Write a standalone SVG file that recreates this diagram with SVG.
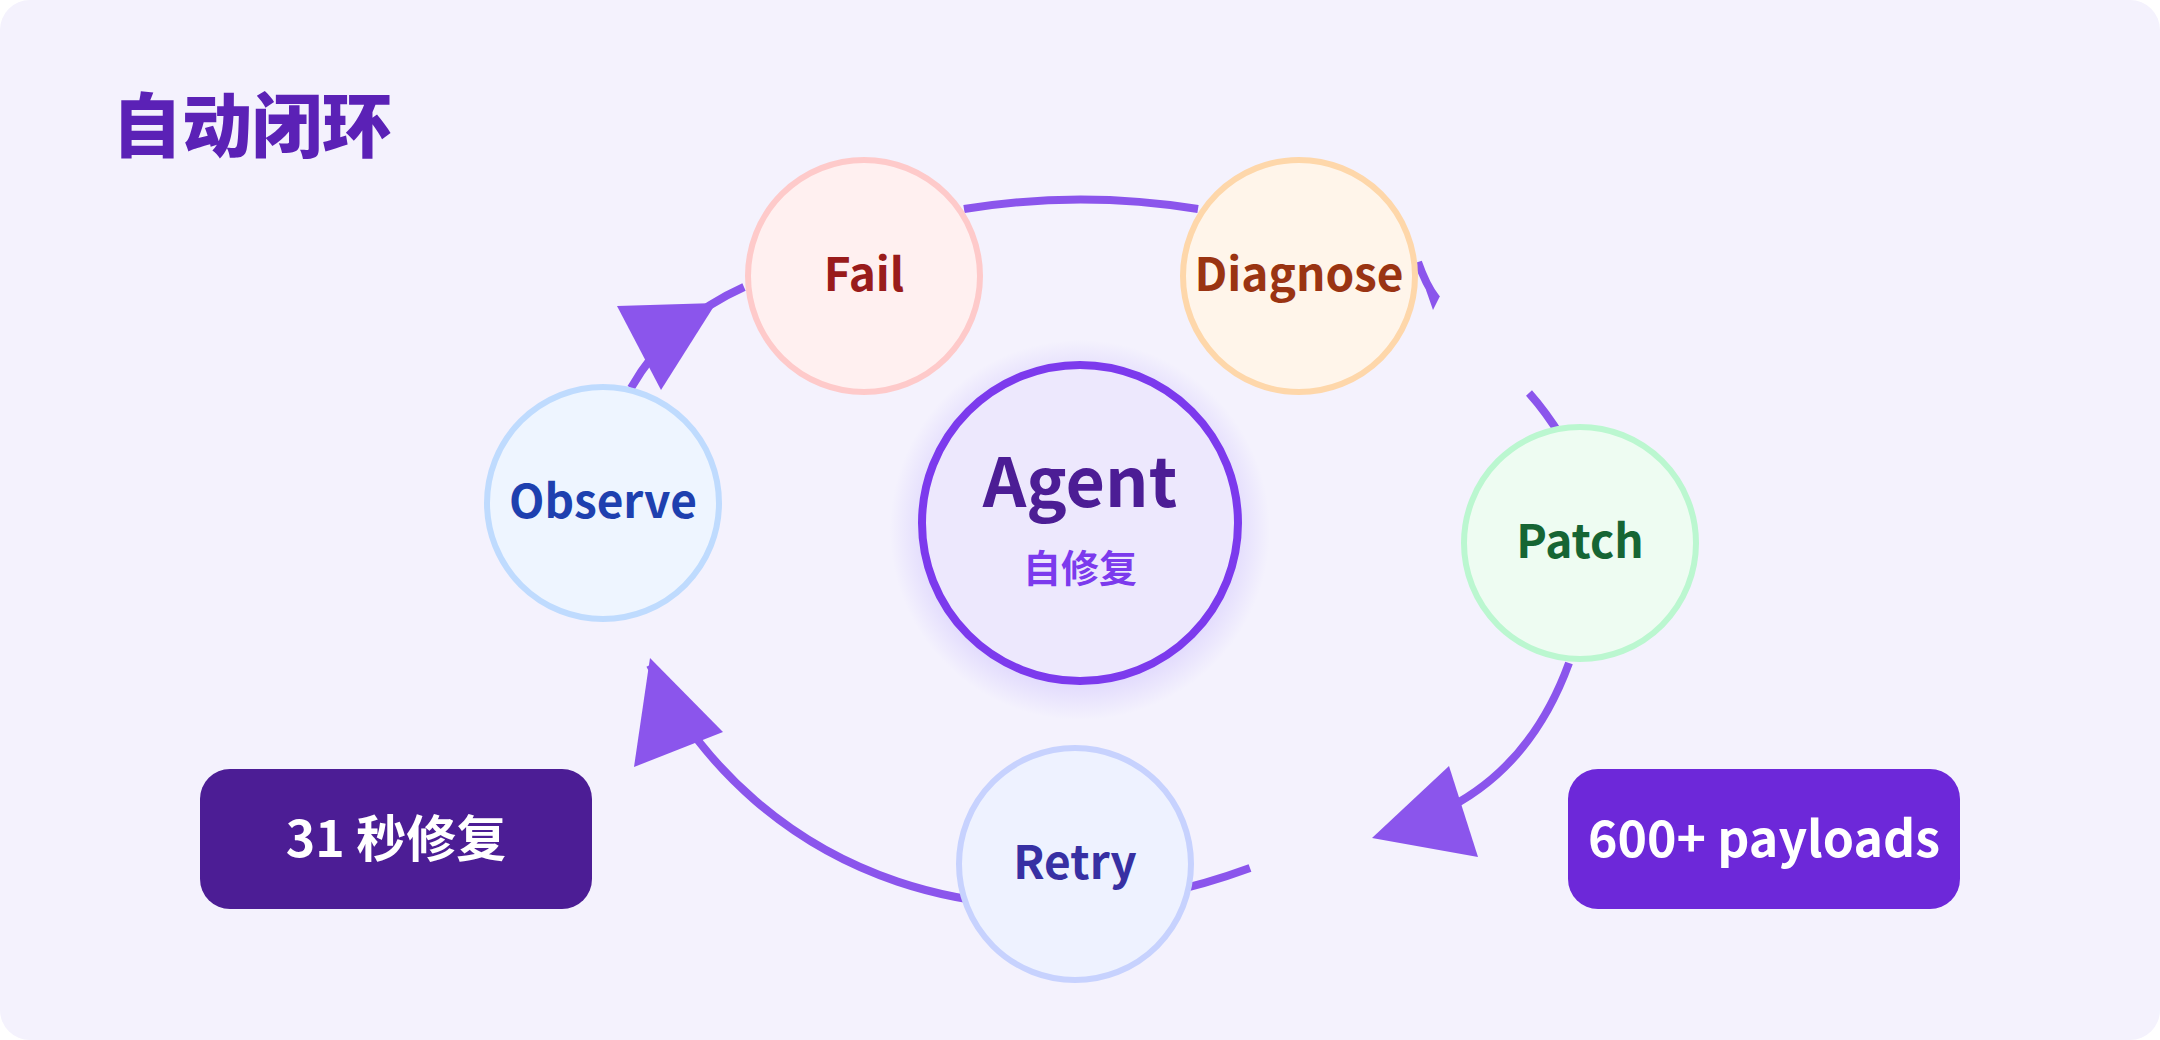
<svg xmlns="http://www.w3.org/2000/svg" width="2160" height="1040" viewBox="0 0 2160 1040">
<defs>
<style>
.n{stroke-width:6}
.lbl{font-family:"Noto Sans CJK SC","Noto Sans",sans-serif;font-weight:700;font-size:46px;text-anchor:middle}
.e{fill:none;stroke:#8b55ec;stroke-width:8}
.h{fill:#8b55ec}
.bx{font-family:"Noto Sans CJK SC","Noto Sans",sans-serif;font-weight:700;font-size:50px;fill:#fff;text-anchor:middle}
</style>
<radialGradient id="glow" cx="0.5" cy="0.5" r="0.5">
<stop offset="0.75" stop-color="#c4b5fd" stop-opacity="0.5"/>
<stop offset="1" stop-color="#c4b5fd" stop-opacity="0"/>
</radialGradient>
</defs>
<rect x="0" y="0" width="2160" height="1040" rx="30" fill="#f4f2fd"/>
<text x="112" y="152" font-family="Noto Sans CJK SC,sans-serif" font-weight="900" font-size="70" fill="#5b21b6">自动闭环</text>
<g id="connectors">
<path class="e" d="M964 209 Q1080 190 1198 209"/>
<path class="e" d="M1418 262 Q1426 285 1436 298"/>
<polygon class="h" points="1426,290 1440,296 1433,310"/>
<path class="e" d="M1529 393 Q1546 412 1562 438"/>
<path class="e" d="M1569 663 Q1530 770 1440 812"/>
<polygon class="h" points="1449,766 1478,857 1372,838"/>
<path class="e" d="M1250 868 C1000 960 760 880 650 665"/>
<polygon class="h" points="650,658 723,732 634,767"/>
<path class="e" d="M631 388 Q670 320 744 287"/>
<polygon class="h" points="617,306 716,303 661,390"/>
</g>
<g id="agent">
<circle cx="1080" cy="530" r="190" fill="url(#glow)"/>
<circle cx="1080" cy="523" r="158" fill="#ede8fd" stroke="#7c3aed" stroke-width="8"/>
<text x="1080" y="507" font-family="Noto Sans CJK SC,sans-serif" font-weight="700" font-size="68" fill="#4c1d95" text-anchor="middle">Agent</text>
<text x="1080" y="582" font-family="Noto Sans CJK SC,sans-serif" font-weight="700" font-size="38" fill="#7c3aed" text-anchor="middle">自修复</text>
</g>
<g id="fail"><circle class="n" cx="864" cy="276" r="116" fill="#fff0f0" stroke="#fecaca"/><text class="lbl" x="864" y="291" fill="#991b1b">Fail</text></g>
<g id="diagnose"><circle class="n" cx="1299" cy="276" r="116" fill="#fff5ea" stroke="#fed7aa"/><text class="lbl" x="1299" y="291" fill="#9a3412">Diagnose</text></g>
<g id="patch"><circle class="n" cx="1580" cy="543" r="116" fill="#eefcf2" stroke="#bbf7d0"/><text class="lbl" x="1580" y="558" fill="#166534">Patch</text></g>
<g id="retry"><circle class="n" cx="1075" cy="864" r="116" fill="#eef2ff" stroke="#c7d2fe"/><text class="lbl" x="1075" y="879" fill="#3730a3">Retry</text></g>
<g id="observe"><circle class="n" cx="603" cy="503" r="116" fill="#eef5ff" stroke="#bfdbfe"/><text class="lbl" x="603" y="518" fill="#1e40af">Observe</text></g>
<g id="box1"><rect x="200" y="769" width="392" height="140" rx="30" fill="#4c1d95"/><text class="bx" x="396" y="857">31 秒修复</text></g>
<g id="box2"><rect x="1568" y="769" width="392" height="140" rx="30" fill="#6d28d9"/><text class="bx" x="1764" y="857">600+ payloads</text></g>
</svg>
